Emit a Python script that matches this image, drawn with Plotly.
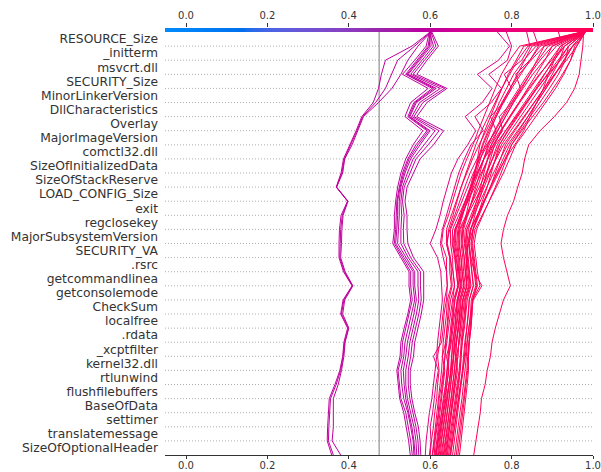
import numpy as np
import plotly.graph_objects as go

# ---------------- data ----------------
features_top_to_bottom = [
    "RESOURCE_Size", "_initterm", "msvcrt.dll", "SECURITY_Size", "MinorLinkerVersion",
    "DllCharacteristics", "Overlay", "MajorImageVersion", "comctl32.dll",
    "SizeOfInitializedData", "SizeOfStackReserve", "LOAD_CONFIG_Size", "exit",
    "regclosekey", "MajorSubsystemVersion", "SECURITY_VA", ".rsrc", "getcommandlinea",
    "getconsolemode", "CheckSum", "localfree", ".rdata", "_xcptfilter", "kernel32.dll",
    "rtlunwind", "flushfilebuffers", "BaseOfData", "settimer", "translatemessage",
    "SizeOfOptionalHeader",
]
base_value = 0.4746
x_ticks = [0.0, 0.2, 0.4, 0.6, 0.8, 1.0]
x_lim = [-0.0516, 1.0]

# cumulative model output per observation, from bottom level (0) to top level (30)
group_low = [
    [0.358,0.347,0.348,0.350,0.352,0.366,0.378,0.385,0.388,0.397,0.380,0.386,0.408,0.387,0.376,0.376,0.377,0.381,0.397,0.369,0.381,0.387,0.403,0.418,0.432,0.460,0.473,0.480,0.490,0.555,0.600],
    [0.380,0.359,0.362,0.362,0.362,0.374,0.382,0.388,0.391,0.400,0.385,0.390,0.410,0.391,0.380,0.382,0.383,0.386,0.398,0.370,0.385,0.390,0.408,0.422,0.436,0.473,0.506,0.528,0.545,0.570,0.602],
    [0.362,0.350,0.351,0.353,0.355,0.369,0.380,0.386,0.390,0.399,0.382,0.388,0.409,0.389,0.378,0.379,0.380,0.384,0.397,0.370,0.383,0.389,0.405,0.420,0.434,0.466,0.490,0.505,0.520,0.562,0.601],
]
group_mid = [
    [0.551,0.547,0.541,0.535,0.525,0.522,0.518,0.526,0.528,0.536,0.545,0.552,0.548,0.548,0.528,0.508,0.512,0.512,0.515,0.520,0.528,0.540,0.558,0.582,0.538,0.552,0.595,0.532,0.562,0.590,0.598],
    [0.556,0.552,0.546,0.540,0.528,0.524,0.521,0.530,0.532,0.540,0.548,0.556,0.552,0.552,0.532,0.512,0.515,0.516,0.518,0.524,0.532,0.545,0.565,0.592,0.545,0.560,0.605,0.540,0.568,0.595,0.600],
    [0.563,0.560,0.555,0.548,0.540,0.536,0.534,0.540,0.544,0.552,0.560,0.566,0.562,0.562,0.540,0.520,0.522,0.524,0.524,0.528,0.538,0.552,0.575,0.600,0.550,0.566,0.615,0.546,0.574,0.602,0.602],
    [0.567,0.565,0.560,0.552,0.544,0.540,0.540,0.546,0.550,0.558,0.566,0.572,0.570,0.570,0.546,0.528,0.528,0.530,0.528,0.532,0.544,0.558,0.585,0.612,0.555,0.574,0.625,0.552,0.580,0.608,0.598],
    [0.572,0.570,0.565,0.558,0.550,0.546,0.546,0.552,0.556,0.564,0.572,0.578,0.576,0.576,0.552,0.535,0.534,0.536,0.532,0.536,0.550,0.565,0.595,0.622,0.560,0.582,0.635,0.558,0.586,0.614,0.602],
    [0.577,0.575,0.571,0.562,0.555,0.551,0.551,0.559,0.562,0.570,0.578,0.584,0.584,0.584,0.559,0.545,0.543,0.543,0.538,0.543,0.559,0.575,0.608,0.633,0.567,0.592,0.641,0.567,0.592,0.620,0.604],
    [0.560,0.558,0.552,0.545,0.535,0.530,0.528,0.535,0.538,0.546,0.554,0.562,0.558,0.558,0.536,0.515,0.518,0.520,0.520,0.526,0.535,0.548,0.570,0.596,0.548,0.563,0.610,0.543,0.571,0.598,0.600],
]
group_high = [
    [0.600,0.603,0.608,0.611,0.616,0.618,0.622,0.618,0.624,0.628,0.632,0.635,0.642,0.640,0.640,0.628,0.632,0.645,0.655,0.665,0.676,0.690,0.705,0.718,0.732,0.745,0.760,0.775,0.795,0.820,0.972],
    [0.605,0.609,0.613,0.617,0.620,0.624,0.628,0.630,0.632,0.636,0.640,0.642,0.652,0.648,0.648,0.640,0.640,0.652,0.664,0.676,0.690,0.704,0.720,0.738,0.755,0.770,0.788,0.805,0.830,0.860,0.975],
    [0.610,0.612,0.617,0.622,0.626,0.630,0.634,0.636,0.638,0.642,0.646,0.650,0.660,0.656,0.655,0.650,0.650,0.664,0.678,0.692,0.706,0.722,0.740,0.760,0.780,0.800,0.822,0.845,0.870,0.900,0.978],
    [0.612,0.616,0.620,0.623,0.628,0.632,0.636,0.630,0.638,0.641,0.644,0.646,0.654,0.652,0.650,0.642,0.645,0.656,0.666,0.676,0.688,0.700,0.712,0.726,0.742,0.758,0.776,0.795,0.815,0.840,0.974],
    [0.615,0.620,0.624,0.628,0.634,0.638,0.641,0.644,0.646,0.650,0.654,0.657,0.668,0.664,0.660,0.654,0.655,0.670,0.685,0.700,0.715,0.732,0.750,0.772,0.795,0.818,0.842,0.868,0.898,0.930,0.980],
    [0.618,0.622,0.626,0.631,0.636,0.640,0.645,0.646,0.650,0.654,0.658,0.661,0.670,0.667,0.665,0.660,0.662,0.674,0.686,0.698,0.708,0.718,0.728,0.742,0.758,0.776,0.796,0.818,0.848,0.880,0.977],
    [0.620,0.624,0.629,0.633,0.638,0.641,0.646,0.640,0.649,0.653,0.657,0.660,0.668,0.665,0.662,0.658,0.660,0.676,0.692,0.708,0.725,0.742,0.760,0.785,0.810,0.835,0.862,0.890,0.920,0.950,0.980],
    [0.622,0.627,0.632,0.637,0.641,0.646,0.650,0.652,0.655,0.660,0.663,0.666,0.676,0.672,0.670,0.665,0.668,0.678,0.690,0.702,0.713,0.724,0.735,0.748,0.762,0.778,0.796,0.812,0.830,0.850,0.976],
    [0.625,0.628,0.633,0.638,0.643,0.647,0.651,0.654,0.656,0.661,0.664,0.667,0.674,0.670,0.668,0.662,0.664,0.678,0.692,0.706,0.718,0.732,0.745,0.765,0.785,0.805,0.828,0.852,0.880,0.910,0.978],
    [0.627,0.632,0.636,0.641,0.646,0.650,0.654,0.658,0.660,0.665,0.669,0.672,0.682,0.678,0.676,0.670,0.672,0.688,0.704,0.720,0.736,0.752,0.770,0.792,0.815,0.838,0.862,0.888,0.915,0.940,0.980],
    [0.630,0.633,0.638,0.642,0.646,0.650,0.655,0.657,0.659,0.663,0.667,0.669,0.678,0.675,0.672,0.668,0.670,0.680,0.690,0.700,0.710,0.720,0.730,0.745,0.762,0.780,0.800,0.822,0.845,0.870,0.977],
    [0.632,0.637,0.642,0.646,0.651,0.655,0.660,0.662,0.665,0.670,0.673,0.676,0.686,0.682,0.680,0.676,0.678,0.690,0.703,0.716,0.728,0.742,0.755,0.775,0.797,0.820,0.845,0.870,0.895,0.920,0.979],
    [0.634,0.638,0.642,0.647,0.652,0.656,0.660,0.663,0.664,0.668,0.672,0.674,0.683,0.679,0.676,0.672,0.674,0.692,0.710,0.728,0.745,0.762,0.780,0.805,0.830,0.855,0.880,0.905,0.935,0.960,0.981],
    [0.636,0.641,0.646,0.650,0.655,0.659,0.664,0.668,0.670,0.674,0.678,0.681,0.690,0.687,0.684,0.680,0.682,0.692,0.703,0.713,0.722,0.732,0.742,0.758,0.776,0.796,0.818,0.840,0.865,0.890,0.977],
    [0.638,0.643,0.648,0.653,0.658,0.662,0.667,0.664,0.672,0.677,0.681,0.684,0.694,0.690,0.688,0.684,0.686,0.700,0.714,0.728,0.740,0.752,0.765,0.785,0.808,0.832,0.856,0.880,0.905,0.930,0.978],
    [0.640,0.644,0.648,0.652,0.657,0.661,0.665,0.668,0.670,0.674,0.677,0.680,0.690,0.686,0.684,0.678,0.680,0.688,0.696,0.704,0.710,0.716,0.722,0.734,0.748,0.762,0.776,0.792,0.810,0.830,0.973],
    [0.642,0.647,0.652,0.657,0.662,0.666,0.671,0.674,0.676,0.680,0.684,0.686,0.696,0.693,0.690,0.686,0.690,0.706,0.722,0.740,0.756,0.772,0.790,0.815,0.840,0.862,0.885,0.908,0.930,0.950,0.980],
    [0.645,0.649,0.654,0.659,0.664,0.668,0.673,0.676,0.679,0.684,0.688,0.691,0.700,0.697,0.694,0.690,0.694,0.704,0.714,0.724,0.732,0.741,0.750,0.766,0.784,0.804,0.825,0.845,0.862,0.880,0.977],
    [0.648,0.652,0.657,0.661,0.666,0.670,0.674,0.676,0.678,0.682,0.686,0.688,0.698,0.695,0.692,0.688,0.690,0.704,0.718,0.732,0.746,0.760,0.775,0.798,0.822,0.848,0.872,0.895,0.918,0.940,0.979],
    [0.650,0.655,0.660,0.665,0.670,0.674,0.679,0.682,0.685,0.690,0.694,0.696,0.706,0.702,0.698,0.694,0.698,0.716,0.734,0.752,0.768,0.784,0.800,0.825,0.852,0.878,0.902,0.925,0.945,0.960,0.981],
    [0.655,0.659,0.663,0.668,0.672,0.676,0.681,0.684,0.687,0.691,0.694,0.696,0.706,0.703,0.700,0.696,0.700,0.710,0.720,0.730,0.739,0.748,0.758,0.775,0.795,0.818,0.840,0.862,0.882,0.900,0.978],
    [0.660,0.664,0.669,0.673,0.678,0.682,0.686,0.689,0.691,0.695,0.699,0.701,0.712,0.708,0.704,0.700,0.706,0.720,0.734,0.748,0.760,0.772,0.785,0.808,0.832,0.856,0.880,0.900,0.918,0.930,0.980],
    [0.664,0.668,0.672,0.677,0.682,0.686,0.690,0.692,0.695,0.699,0.702,0.704,0.716,0.712,0.708,0.704,0.710,0.728,0.746,0.764,0.780,0.795,0.810,0.835,0.860,0.885,0.908,0.928,0.945,0.955,0.982],
    [0.668,0.672,0.676,0.680,0.684,0.688,0.692,0.694,0.696,0.700,0.703,0.704,0.714,0.710,0.706,0.702,0.705,0.716,0.728,0.740,0.750,0.760,0.770,0.790,0.812,0.836,0.860,0.882,0.902,0.920,0.978],
    [0.672,0.676,0.680,0.684,0.688,0.691,0.694,0.694,0.696,0.700,0.702,0.704,0.722,0.716,0.712,0.708,0.714,0.730,0.745,0.760,0.774,0.787,0.800,0.822,0.846,0.870,0.893,0.915,0.932,0.940,0.980],
    [0.614,0.620,0.626,0.632,0.640,0.646,0.652,0.658,0.664,0.670,0.675,0.680,0.690,0.688,0.690,0.692,0.700,0.716,0.732,0.748,0.764,0.780,0.795,0.818,0.840,0.862,0.885,0.908,0.930,0.950,0.980],
    [0.588,0.590,0.594,0.598,0.604,0.608,0.612,0.616,0.618,0.622,0.626,0.630,0.628,0.626,0.618,0.600,0.614,0.624,0.632,0.642,0.652,0.668,0.692,0.712,0.686,0.728,0.752,0.716,0.768,0.795,0.765],
    [0.598,0.602,0.600,0.606,0.610,0.614,0.620,0.608,0.628,0.632,0.634,0.640,0.642,0.640,0.632,0.625,0.630,0.640,0.650,0.660,0.670,0.684,0.700,0.730,0.710,0.750,0.775,0.744,0.790,0.800,0.787],
    [0.606,0.610,0.615,0.620,0.622,0.628,0.632,0.636,0.640,0.645,0.650,0.655,0.660,0.656,0.648,0.640,0.648,0.660,0.672,0.685,0.698,0.715,0.738,0.762,0.748,0.780,0.800,0.782,0.825,0.845,0.837],
    [0.614,0.618,0.622,0.628,0.632,0.638,0.642,0.646,0.652,0.656,0.660,0.668,0.674,0.670,0.662,0.655,0.662,0.675,0.688,0.700,0.715,0.732,0.755,0.778,0.770,0.800,0.822,0.810,0.845,0.866,0.854],
    [0.650,0.655,0.660,0.664,0.670,0.674,0.680,0.686,0.690,0.695,0.700,0.706,0.727,0.708,0.700,0.695,0.705,0.718,0.732,0.748,0.765,0.785,0.808,0.830,0.845,0.862,0.878,0.890,0.905,0.925,0.915],
    [0.707,0.712,0.717,0.723,0.726,0.735,0.740,0.748,0.752,0.760,0.770,0.780,0.797,0.788,0.780,0.774,0.780,0.790,0.805,0.815,0.826,0.832,0.842,0.870,0.905,0.935,0.955,0.966,0.970,0.975,0.977],
]

# ---------------- colormap (shap red_blue, LCH interpolation) ----------------
def lch2rgb(l, c, h):
    a, b = c * np.cos(h), c * np.sin(h)
    fy = (l + 16) / 116.0
    fx = fy + a / 500.0
    fz = fy - b / 200.0
    def finv(t):
        return t ** 3 if t ** 3 > 0.008856 else (t - 16 / 116.0) / 7.787
    X, Y, Z = 0.95047 * finv(fx), 1.0 * finv(fy), 1.08883 * finv(fz)
    r = 3.2406 * X - 1.5372 * Y - 0.4986 * Z
    g = -0.9689 * X + 1.8758 * Y + 0.0415 * Z
    bb = 0.0557 * X - 0.2040 * Y + 1.0570 * Z
    out = []
    for v in (r, g, bb):
        v = 1.055 * v ** (1 / 2.4) - 0.055 if v > 0.0031308 else 12.92 * v
        out.append(min(max(v, 0.0), 1.0))
    return out

blue_lch = [54., 70., 4.6588]
red_lch = [54., 90., 0.35470565 + 2 * np.pi]
nsteps = 100
l_vals = list(np.linspace(blue_lch[0], 40., nsteps // 2)) + list(np.linspace(40., red_lch[0], nsteps // 2))
c_vals = np.linspace(blue_lch[1], red_lch[1], nsteps)
h_vals = np.linspace(blue_lch[2], red_lch[2], nsteps)
cmap_pos = np.linspace(0, 1, nsteps)
cmap_rgb = np.array([lch2rgb(l, c, h) for l, c, h in zip(l_vals, c_vals, h_vals)])

def to_hex(rgb):
    return "#%02x%02x%02x" % tuple(int(round(v * 255)) for v in rgb)

colorscale = [[float(p), to_hex(rgb)] for p, rgb in zip(cmap_pos, cmap_rgb)]

def color_for(v):
    t = (v - x_lim[0]) / (x_lim[1] - x_lim[0])
    t = min(max(t, 0), 1)
    rgb = [np.interp(t, cmap_pos, cmap_rgb[:, k]) for k in range(3)]
    return to_hex(rgb)

# ---------------- figure ----------------
n_feat = len(features_top_to_bottom)
levels = list(range(n_feat + 1))
fig = go.Figure()

all_lines = group_low + group_mid + group_high
for vals in all_lines:
    fig.add_trace(go.Scatter(
        x=vals, y=levels, mode="lines",
        line=dict(color=color_for(vals[-1]), width=1),
        hoverinfo="skip", showlegend=False,
    ))

# colour bar strip at the top
n_cb = 300
edges = np.linspace(x_lim[0], x_lim[1], n_cb + 1)
centers = (edges[:-1] + edges[1:]) / 2
fig.add_trace(go.Heatmap(
    x=edges, y=[0, 1], z=[centers], colorscale=colorscale,
    zmin=x_lim[0], zmax=x_lim[1], showscale=False, hoverinfo="skip",
    xaxis="x2", yaxis="y2",
))

shapes = []
for i in range(1, n_feat):
    shapes.append(dict(type="line", xref="paper", x0=0, x1=1, yref="y", y0=i, y1=i,
                       line=dict(color="#b0b0b0", width=1, dash="1px,2px"), layer="below"))
shapes.append(dict(type="line", xref="x", x0=base_value, x1=base_value, yref="y", y0=0, y1=n_feat,
                   line=dict(color="#999999", width=1.3), layer="below"))

font_family = "DejaVu Sans"
fig.update_layout(
    width=601, height=472,
    margin=dict(l=165, r=8, t=28, b=17, autoexpand=False),
    paper_bgcolor="white", plot_bgcolor="white",
    font=dict(family=font_family, color="#333333"),
    shapes=shapes,
    xaxis=dict(range=x_lim, domain=[0, 1], tickvals=x_ticks, ticktext=["%.1f" % t for t in x_ticks],
               showgrid=False, zeroline=False, showline=True, linecolor="#333333", linewidth=1,
               ticks="outside", ticklen=3, tickcolor="#333333", tickwidth=1, automargin=False,
               ticklabelstandoff=-2,
               tickfont=dict(size=10, color="#333333"), anchor="y"),
    yaxis=dict(range=[0, n_feat], domain=[0, 0.9906],
               tickvals=[i + 0.5 for i in range(n_feat)],
               ticktext=features_top_to_bottom[::-1],
               showgrid=False, zeroline=False, showline=False, ticks="",
               ticklabelstandoff=6, automargin=False,
               tickfont=dict(size=12.3, color="#333333"), anchor="x"),
    xaxis2=dict(range=x_lim, domain=[0, 1], anchor="y2", side="top", tickvals=x_ticks,
                ticktext=["%.1f" % t for t in x_ticks], showgrid=False, zeroline=False,
                showline=False, ticks="outside", ticklen=4, tickcolor="#333333", tickwidth=1,
                automargin=False, tickfont=dict(size=10, color="#333333")),
    yaxis2=dict(range=[0, 1], domain=[0.9906, 1.0], anchor="x2", showticklabels=False,
                showgrid=False, zeroline=False, showline=False, ticks="", automargin=False),
)

fig.write_html("out.html")
